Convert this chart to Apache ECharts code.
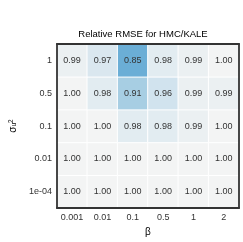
<!DOCTYPE html>
<html><head><meta charset="utf-8">
<script src="https://cdn.jsdelivr.net/npm/echarts@6/dist/echarts.min.js"></script>
<style>html,body{margin:0;padding:0;background:#fff}#c{width:243px;height:242px}</style>
</head><body><div id="c"></div>
<script>
var betaLabels = ['0.001','0.01','0.1','0.5','1','2'];
var sigmaLabels = ['1e-04','0.01','0.1','0.5','1'];
var row_1e04 = [1.00,1.00,1.00,1.00,1.00,1.00];
var row_001  = [1.00,1.00,1.00,1.00,1.00,1.00];
var row_01   = [1.00,1.00,0.98,0.98,0.99,1.00];
var row_05   = [1.00,0.98,0.91,0.96,0.99,0.99];
var row_1    = [0.99,0.97,0.85,0.98,0.99,1.00];
var rows = [row_1e04,row_001,row_01,row_05,row_1];
var data = [];
rows.forEach(function(r,yi){ r.forEach(function(v,xi){ data.push([xi,yi,v]); }); });
var chart = echarts.init(document.getElementById('c'));
var FF = 'Liberation Sans, Arial, sans-serif';
var lbl = {fontFamily:FF, fontSize:9, color:'#333'};
chart.setOption({
  animation:false,
  title:{text:'Relative RMSE for HMC/KALE', left:138, textAlign:'center', top:24,
    textStyle:{fontFamily:FF, fontSize:9.5, fontWeight:'normal', color:'#000'}},
  grid:{left:37.5, right:4, top:44, bottom:31},
  xAxis:[{type:'category', data:betaLabels, position:'bottom', z:10,
    axisLine:{show:true, lineStyle:{color:'#333', width:1.8}}, axisTick:{show:false},
    axisLabel:Object.assign({margin:5}, lbl), splitArea:{show:false},
    name:'β', nameLocation:'middle', nameGap:15,
    nameTextStyle:{fontFamily:FF, fontSize:10, color:'#000'}},
   {type:'category', data:betaLabels, position:'top', z:10,
    axisLine:{show:true, lineStyle:{color:'#333', width:1.8}}, axisTick:{show:false}, axisLabel:{show:false}}],
  yAxis:[{type:'category', data:sigmaLabels, position:'left', z:10,
    axisLine:{show:true, lineStyle:{color:'#333', width:1.8}}, axisTick:{show:false},
    axisLabel:Object.assign({margin:5}, lbl),
    name:'{a|σ}{c|u}{b|2}', nameLocation:'middle', nameGap:20, nameRotate:90,
    nameTextStyle:{rich:{a:{fontSize:10,color:'#000',fontFamily:FF},
      b:{fontSize:6.5,color:'#000',verticalAlign:'top',fontFamily:FF},
      c:{fontSize:6.5,color:'#000',verticalAlign:'bottom',fontFamily:FF}}}},
   {type:'category', data:sigmaLabels, position:'right', z:10,
    axisLine:{show:true, lineStyle:{color:'#333', width:1.8}}, axisTick:{show:false}, axisLabel:{show:false}}],
  visualMap:{show:false, min:0.85, max:1.0, dimension:2,
    inRange:{color:['#6baed6','#9fcae1','#c9dfec','#f3f4f4']}},
  series:[{type:'heatmap', data:data, xAxisIndex:0, yAxisIndex:0, z:1,
    itemStyle:{borderColor:'#fff', borderWidth:1},
    label:{show:true, fontFamily:FF, fontSize:9, color:'#333',
      formatter:function(p){return p.value[2].toFixed(2);}}}]
});
</script></body></html>
